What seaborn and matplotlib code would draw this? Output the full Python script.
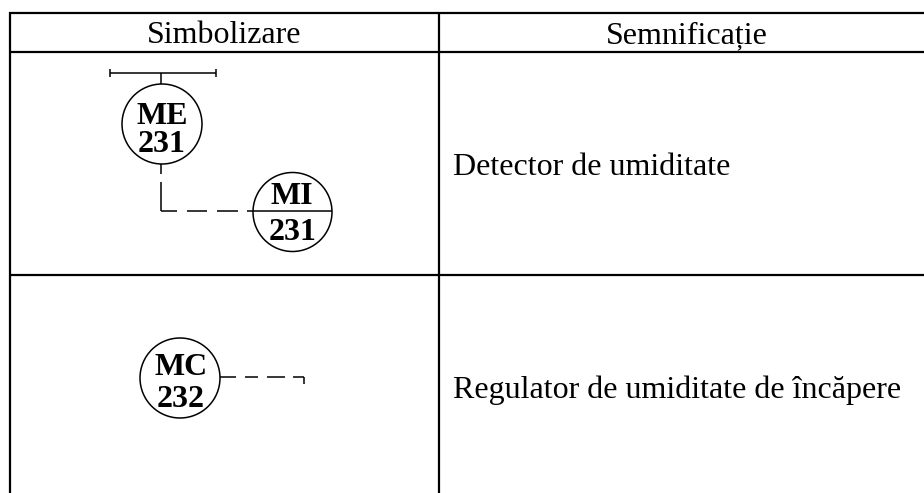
import matplotlib
matplotlib.use("Agg")
import seaborn as sns
import matplotlib.pyplot as plt
from matplotlib.patches import Circle

# Table text
headers = ["Simbolizare", "Semnificație"]
meanings = ["Detector de umiditate", "Regulator de umiditate de încăpere"]
# Symbol labels
me_label = ["ME", "231"]
mi_label = ["MI", "231"]
mc_label = ["MC", "232"]

W, H = 924, 493

sns.set_theme(style="white", rc={"font.family": ["Liberation Serif", "DejaVu Serif"]})
fig = plt.figure(figsize=(W / 100, H / 100), dpi=100)
ax = fig.add_axes([0, 0, 1, 1])
ax.set_xlim(0, W)
ax.set_ylim(H, 0)
ax.axis("off")


def seg(xs, ys, lw=1.1):
    # straight line in pixel coordinates
    sns.lineplot(x=xs, y=ys, ax=ax, color="black", linewidth=lw, sort=False,
                 estimator=None, legend=False, solid_capstyle="butt")


def circle(cx, cy, r):
    ax.add_patch(Circle((cx, cy), r, fill=False, ec="black", lw=1.1))


def label(x, y, s):
    ax.text(x, y, s, fontsize=23, ha="center", va="baseline", weight="bold", color="black")


# Table grid
grid_lw = 1.6
for y in [12.7, 51.7, 274.7]:
    seg([9, W], [y, y], lw=grid_lw)
seg([10, 10], [12, H], lw=grid_lw)
seg([439, 439], [12, H], lw=grid_lw)

# Header and right column text
ax.text(224, 43, headers[0], fontsize=23, ha="center", va="baseline", color="black")
ax.text(687, 43, headers[1], fontsize=23, ha="center", va="baseline", color="black")
ax.text(453, 175, meanings[0], fontsize=23, ha="left", va="baseline", color="black")
ax.text(453, 398, meanings[1], fontsize=23, ha="left", va="baseline", color="black")

# ME symbol
seg([110, 216], [73, 73])
seg([110, 110], [69, 77])
seg([216, 216], [69, 77])
seg([161, 161], [73, 84])
circle(162, 124, 40)
label(162, 124, me_label[0])
label(162, 152, me_label[1])

# dashed link to MI
seg([161, 161], [164, 174])
seg([161, 161], [182, 211])
seg([161, 177], [211, 211])
seg([187, 207], [211, 211])
seg([217, 238], [211, 211])
seg([247, 253], [211, 211])

# MI symbol
circle(292.5, 212, 39.5)
seg([253, 332], [211, 211])
label(292, 204, mi_label[0])
label(293, 240, mi_label[1])

# MC symbol
circle(180, 378, 40)
label(181, 375, mc_label[0])
label(181, 407, mc_label[1])
seg([220, 236], [377, 377])
seg([245, 258], [377, 377])
seg([267, 285], [377, 377])
seg([293, 304], [377, 377])
seg([304, 304], [377, 384])

fig.savefig("out.png", dpi=100, facecolor="white")
